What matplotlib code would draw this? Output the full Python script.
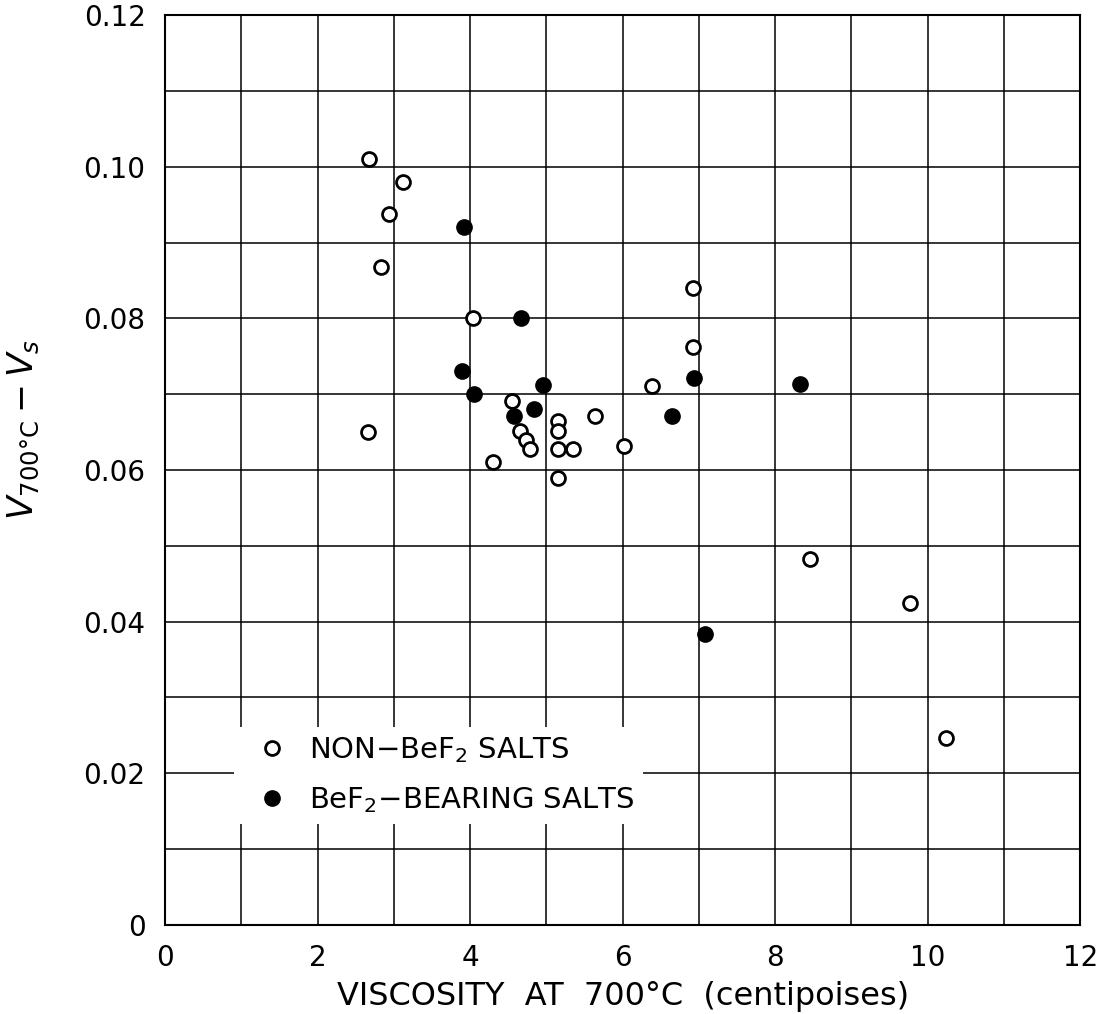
import matplotlib
matplotlib.use('Agg')
import matplotlib.pyplot as plt

# non-BeF2 salts (open circles)
open_visc = [2.68, 3.12, 2.94, 2.83, 4.04, 2.66, 6.92, 6.92, 6.39, 4.55, 4.66, 4.73,
             4.78, 4.30, 5.15, 5.15, 5.15, 5.35, 5.15, 5.64, 6.02, 8.46, 9.77, 10.24]
open_dv = [0.101, 0.098, 0.0938, 0.0868, 0.0800, 0.0650, 0.0840, 0.0762, 0.0711, 0.0691, 0.0652, 0.0640,
           0.0628, 0.0611, 0.0665, 0.0651, 0.0628, 0.0628, 0.0590, 0.0671, 0.0631, 0.0483, 0.0424, 0.0246]

# BeF2-bearing salts (filled circles)
fill_visc = [3.92, 4.67, 3.90, 4.05, 4.96, 4.84, 4.58, 6.65, 6.94, 8.33, 7.08]
fill_dv = [0.0920, 0.0801, 0.0731, 0.0700, 0.0712, 0.0681, 0.0671, 0.0671, 0.0722, 0.0713, 0.0383]

xticks = [0, 2, 4, 6, 8, 10, 12]
yticks = [0, 0.02, 0.04, 0.06, 0.08, 0.10, 0.12]
ytick_labels = ['0', '0.02', '0.04', '0.06', '0.08', '0.10', '0.12']

fig = plt.figure(figsize=(11, 10.14), dpi=100)
ax = fig.add_axes([0.15, 0.088, 0.832, 0.897])

ax.plot(open_visc, open_dv, 'o', mfc='white', mec='black', mew=2, ms=10,
        label='NON$-$BeF$_2$ SALTS', zorder=3)
ax.plot(fill_visc, fill_dv, 'o', color='black', ms=11,
        label='BeF$_2$$-$BEARING SALTS', zorder=3)

ax.set_xlim(0, 12)
ax.set_ylim(0, 0.12)
ax.set_xticks(xticks)
ax.set_yticks(yticks)
ax.set_yticklabels(ytick_labels)
ax.set_xticks(range(0, 13), minor=True)
ax.set_yticks([i * 0.01 for i in range(13)], minor=True)
ax.grid(True, which='both', color='black', linewidth=1.1)
ax.tick_params(which='both', length=0, labelsize=20, pad=14)
for s in ax.spines.values():
    s.set_linewidth(1.5)

ax.set_xlabel('VISCOSITY  AT  700°C  (centipoises)', fontsize=23, labelpad=6)
ax.set_ylabel('$V_{700°\\mathrm{C}} - V_s$', fontsize=25)
ax.yaxis.set_label_coords(-0.135, 0.545)

leg = ax.legend(loc='upper left', bbox_to_anchor=(0.06, 0.234), frameon=True,
                fontsize=21, handletextpad=0.25, labelspacing=0.7, borderpad=0.3,
                edgecolor='white', framealpha=1)
leg.get_frame().set_linewidth(0)

plt.savefig('out.png', dpi=100)
